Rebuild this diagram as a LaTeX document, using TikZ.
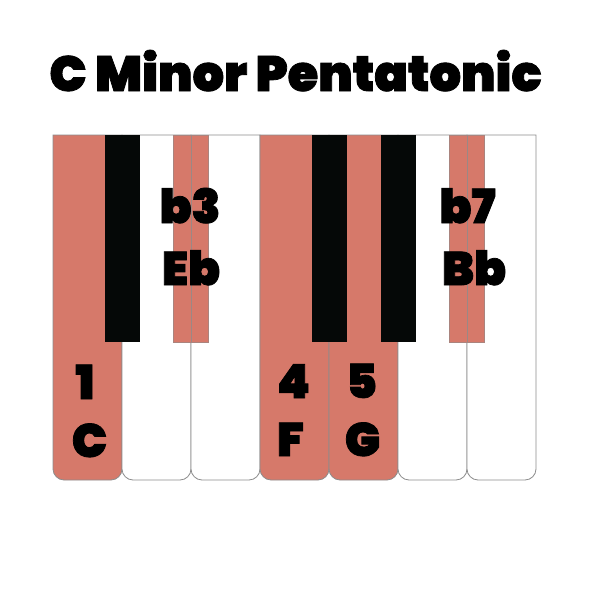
\documentclass[tikz,border=0pt]{standalone}
\usepackage{fontspec}
\newfontfamily\pop[FakeBold=1.6]{Poppins Black}
\definecolor{salmon}{HTML}{D6796A}
\definecolor{keyline}{HTML}{8C8C8C}
\definecolor{blk}{HTML}{050807}
\tikzset{
  wk/.style={draw=keyline, line width=0.8pt},
  bk/.style={fill=blk, draw=none},
  hbk/.style={fill=salmon, draw=keyline!60!salmon, line width=0.5pt},
  lbl/.style={font=\pop\fontsize{47}{47}\selectfont, inner sep=0pt, anchor=base, text=black},
  ttl/.style={font=\pop\fontsize{49.5}{49.5}\selectfont, inner sep=0pt, anchor=base, text=black}
}
\newcommand\wkey[3]{\draw[wk,fill=#3] (#1,135) -- (#1,469) .. controls (#1,475) and (#1+5,480) .. (#1+11,480) -- (#2-11,480) .. controls (#2-5,480) and (#2,475) .. (#2,469) -- (#2,135) -- cycle;}
\begin{document}
\begin{tikzpicture}[x=1pt,y=-1pt]
\useasboundingbox (0,0) rectangle (600,600);
\fill[white] (0,0) rectangle (600,600);
% white keys
\wkey{53}{122}{salmon}
\wkey{122}{191}{white}
\wkey{191}{260}{white}
\wkey{260}{329}{salmon}
\wkey{329}{398}{salmon}
\wkey{398}{467}{white}
\wkey{467}{536}{white}
% black keys
\fill[bk] (104.5,135) rectangle (139.5,342);
\draw[hbk] (173.5,135) rectangle (208,342);
\fill[bk] (311.5,135) rectangle (346.5,342);
\fill[bk] (380.5,135) rectangle (415.5,342);
\draw[hbk] (449.5,135) rectangle (484.5,342);
\draw[keyline!80!salmon, line width=0.6pt] (191,135) -- (191,342);
\draw[keyline!80!salmon, line width=0.6pt] (467,135) -- (467,342);
% title
\node[ttl] (title) at (295.5,91) {C Minor Pentatonic};
% labels
\node[lbl] (n1) at (85,399) {1};
\node[lbl] (nC) at (89.5,457) {C};
\node[lbl] (n4) at (293.5,398) {4};
\node[lbl] (nF) at (290.5,456) {F};
\node[lbl] (n5) at (361.5,398) {5};
\node[lbl] (nG) at (362.5,456) {G};
\node[lbl] (nb3) at (190,223) {b3};
\node[lbl] (nEb) at (191,285) {Eb};
\node[lbl] (nb7) at (467.5,223) {b7};
\node[lbl] (nBb) at (474,285) {Bb};
\end{tikzpicture}
\end{document}
